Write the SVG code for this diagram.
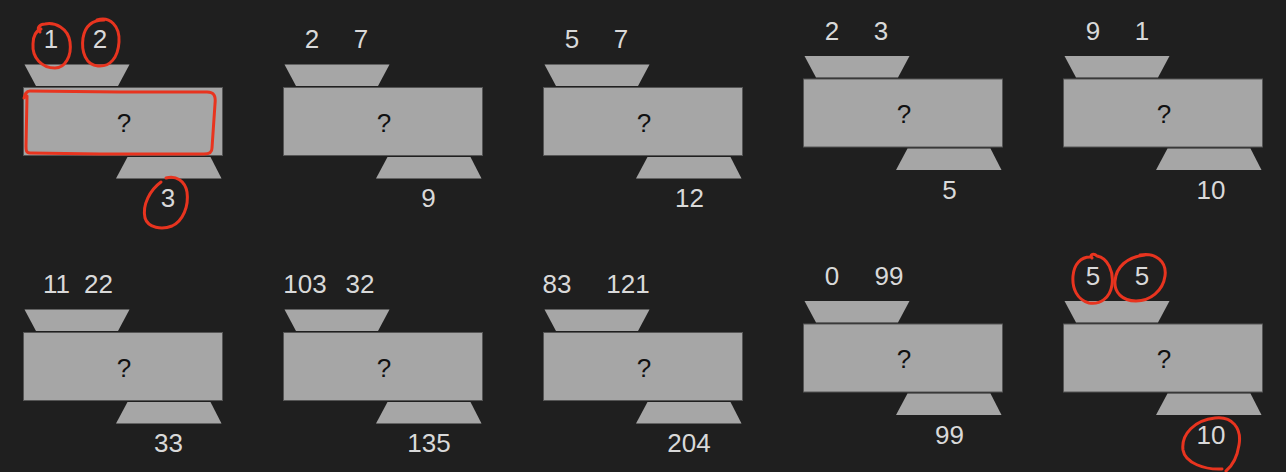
<svg xmlns="http://www.w3.org/2000/svg" xmlns:xlink="http://www.w3.org/1999/xlink" width="1286" height="472" viewBox="0 0 1286 472">
<style>
.hop{fill:#a6a6a6}
.body{fill:#a6a6a6;stroke:#555555;stroke-width:1}
.lbl{font-family:"Liberation Sans",Arial,sans-serif;font-size:26px;fill:#d9d9d9;text-anchor:middle}
.q{font-family:"Liberation Sans",Arial,sans-serif;font-size:26px;fill:#111111;text-anchor:middle}
.ink{fill:none;stroke:#e8341f;stroke-width:3;stroke-linecap:round;stroke-linejoin:round}
</style>
<defs>
<g id="machine">
<polygon class="hop" points="1,-23 106,-23 94.5,-1.5 12.5,-1.5"/>
<rect class="body" x="0" y="0" width="199" height="68"/>
<polygon class="hop" points="104,69.5 187,69.5 198,91 92.5,91"/>
</g>
</defs>
<rect x="0" y="0" width="1286" height="472" fill="#1f1f1f"/>

<g id="m1">
<use xlink:href="#machine" href="#machine" x="23.5" y="87.5"/>
<text class="q" x="124" y="131.5">?</text>
<text class="lbl" x="51" y="48">1</text>
<text class="lbl" x="100" y="48">2</text>
<text class="lbl" x="168" y="207">3</text>
</g>
<g id="m2">
<use xlink:href="#machine" href="#machine" x="283.5" y="87.5"/>
<text class="q" x="384" y="131.5">?</text>
<text class="lbl" x="312" y="48">2</text>
<text class="lbl" x="361" y="48">7</text>
<text class="lbl" x="428.5" y="207">9</text>
</g>
<g id="m3">
<use xlink:href="#machine" href="#machine" x="543.5" y="87.5"/>
<text class="q" x="644" y="131.5">?</text>
<text class="lbl" x="572" y="48">5</text>
<text class="lbl" x="621" y="48">7</text>
<text class="lbl" x="689.5" y="207">12</text>
</g>
<g id="m4">
<use xlink:href="#machine" href="#machine" x="803.5" y="79"/>
<text class="q" x="904" y="123">?</text>
<text class="lbl" x="832" y="39.5">2</text>
<text class="lbl" x="881" y="39.5">3</text>
<text class="lbl" x="949.5" y="198.5">5</text>
</g>
<g id="m5">
<use xlink:href="#machine" href="#machine" x="1063.5" y="79"/>
<text class="q" x="1164" y="123">?</text>
<text class="lbl" x="1093" y="39.5">9</text>
<text class="lbl" x="1142" y="39.5">1</text>
<text class="lbl" x="1211" y="198.5">10</text>
</g>

<g id="m6">
<use xlink:href="#machine" href="#machine" x="23.5" y="332.5"/>
<text class="q" x="124" y="376.5">?</text>
<text class="lbl" x="56.5" y="293">11</text>
<text class="lbl" x="98.5" y="293">22</text>
<text class="lbl" x="168.5" y="452">33</text>
</g>
<g id="m7">
<use xlink:href="#machine" href="#machine" x="283.5" y="332.5"/>
<text class="q" x="384" y="376.5">?</text>
<text class="lbl" x="305" y="293">103</text>
<text class="lbl" x="360" y="293">32</text>
<text class="lbl" x="429" y="452">135</text>
</g>
<g id="m8">
<use xlink:href="#machine" href="#machine" x="543.5" y="332.5"/>
<text class="q" x="644" y="376.5">?</text>
<text class="lbl" x="557" y="293">83</text>
<text class="lbl" x="628" y="293">121</text>
<text class="lbl" x="689" y="452">204</text>
</g>
<g id="m9">
<use xlink:href="#machine" href="#machine" x="803.5" y="324"/>
<text class="q" x="904" y="368">?</text>
<text class="lbl" x="832" y="284.5">0</text>
<text class="lbl" x="889" y="284.5">99</text>
<text class="lbl" x="949.5" y="443.5">99</text>
</g>
<g id="m10">
<use xlink:href="#machine" href="#machine" x="1063.5" y="324"/>
<text class="q" x="1164" y="368">?</text>
<text class="lbl" x="1093" y="284.5">5</text>
<text class="lbl" x="1142" y="284.5">5</text>
<text class="lbl" x="1211" y="443.5">10</text>
</g>

<g id="annotations">
<path class="ink" d="M40,32 C36,28 40,24 45,24 C55,22 68,28 70,42 C72,56 65,68 55,68 C42,68 32,58 33,44 C33,36 36,31 41,29"/>
<path class="ink" d="M97,20 C110,16 120,26 119,42 C118,58 110,67 98,66 C86,65 81,52 83,38 C85,26 92,20 104,20"/>
<path class="ink" d="M24,98 C25,94 26,91 30,91 L120,92 L207,92 C214,92 216,96 215,104 L212,148 C212,153 209,154 204,154 L100,154 L30,153 C26,153 26,150 26,146 L27,96"/>
<path class="ink" d="M161,182 C150,190 142,205 145,218 C148,228 162,230 172,226 C183,221 189,206 187,192 C185,181 176,175 166,178"/>
<path class="ink" d="M1092,258 C1089,254 1094,253 1097,256 C1108,258 1114,272 1112,285 C1110,298 1100,305 1089,303 C1077,300 1072,288 1073,276 C1074,264 1081,257 1090,257"/>
<path class="ink" d="M1140,255 C1156,252 1167,262 1165,276 C1163,291 1150,301 1136,301 C1122,301 1114,292 1115,281 C1116,267 1127,257 1145,255"/>
<path class="ink" d="M1222,469 C1205,470 1185,463 1183,450 C1181,434 1195,420 1215,418 C1232,416 1242,428 1239,445 C1237,458 1232,466 1226,471"/>
</g>
</svg>
